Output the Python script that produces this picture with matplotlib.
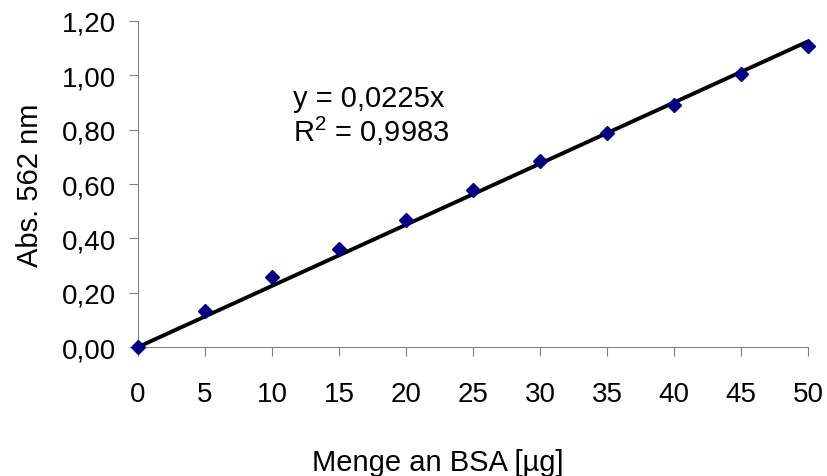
import matplotlib
matplotlib.use("Agg")
import matplotlib.pyplot as plt
import numpy as np

plt.rcParams['font.family'] = ['Liberation Sans', 'DejaVu Sans']
plt.rcParams['mathtext.fontset'] = 'custom'
plt.rcParams['mathtext.rm'] = 'Liberation Sans'
plt.rcParams['mathtext.it'] = 'Liberation Sans'

x_vals = [0, 5, 10, 15, 20, 25, 30, 35, 40, 45, 50]
absorbance = [0.0, 0.134, 0.257, 0.360, 0.467, 0.577, 0.683, 0.787, 0.890, 1.005, 1.107]
slope = 0.0225
eq_text = "y = 0,0225x"
r2_text = "R$^2$ = 0,9983"
y_ticks = [0.0, 0.2, 0.4, 0.6, 0.8, 1.0, 1.2]
y_tick_labels = ["0,00", "0,20", "0,40", "0,60", "0,80", "1,00", "1,20"]

fig = plt.figure(figsize=(8.27, 4.77), dpi=100)
ax = fig.add_axes([0.1669, 0.2704, 0.977 - 0.1669, 0.9539 - 0.2704])

xl = np.array([0, 50])
ax.plot(xl, slope * xl, color='black', lw=2.8, zorder=2, clip_on=False,
        solid_capstyle='butt')
ax.plot(x_vals, absorbance, linestyle='none', marker='D', markersize=7.2,
        color='#000080', zorder=3, clip_on=False)

ax.set_xlim(0, 50)
ax.set_ylim(0, 1.2)
ax.set_xticks(x_vals)
ax.set_xticklabels([str(v) for v in x_vals])
ax.set_yticks(y_ticks)
ax.set_yticklabels(y_tick_labels)

for s in ['top', 'right']:
    ax.spines[s].set_visible(False)
for s in ['left', 'bottom']:
    ax.spines[s].set_color('#808080')
    ax.spines[s].set_linewidth(0.8)

ax.tick_params(axis='y', direction='out', length=6.5, width=0.8, color='#808080',
               labelsize=20, pad=9.4)
ax.tick_params(axis='x', direction='out', length=6.5, width=0.8, color='#808080',
               labelsize=20, pad=17.8)

ax.set_xlabel("Menge an BSA [µg]", fontsize=21)
ax.xaxis.set_label_coords((437.5 - 138) / 670, (348 - 449) / 326)
ax.set_ylabel("Abs. 562 nm", fontsize=21, labelpad=13)

ax.text(11.55, 0.888, eq_text, fontsize=21, va='baseline', ha='left')
ax.text(11.55, 0.759, r2_text, fontsize=21, va='baseline', ha='left')

fig.savefig("out.png", dpi=100)
